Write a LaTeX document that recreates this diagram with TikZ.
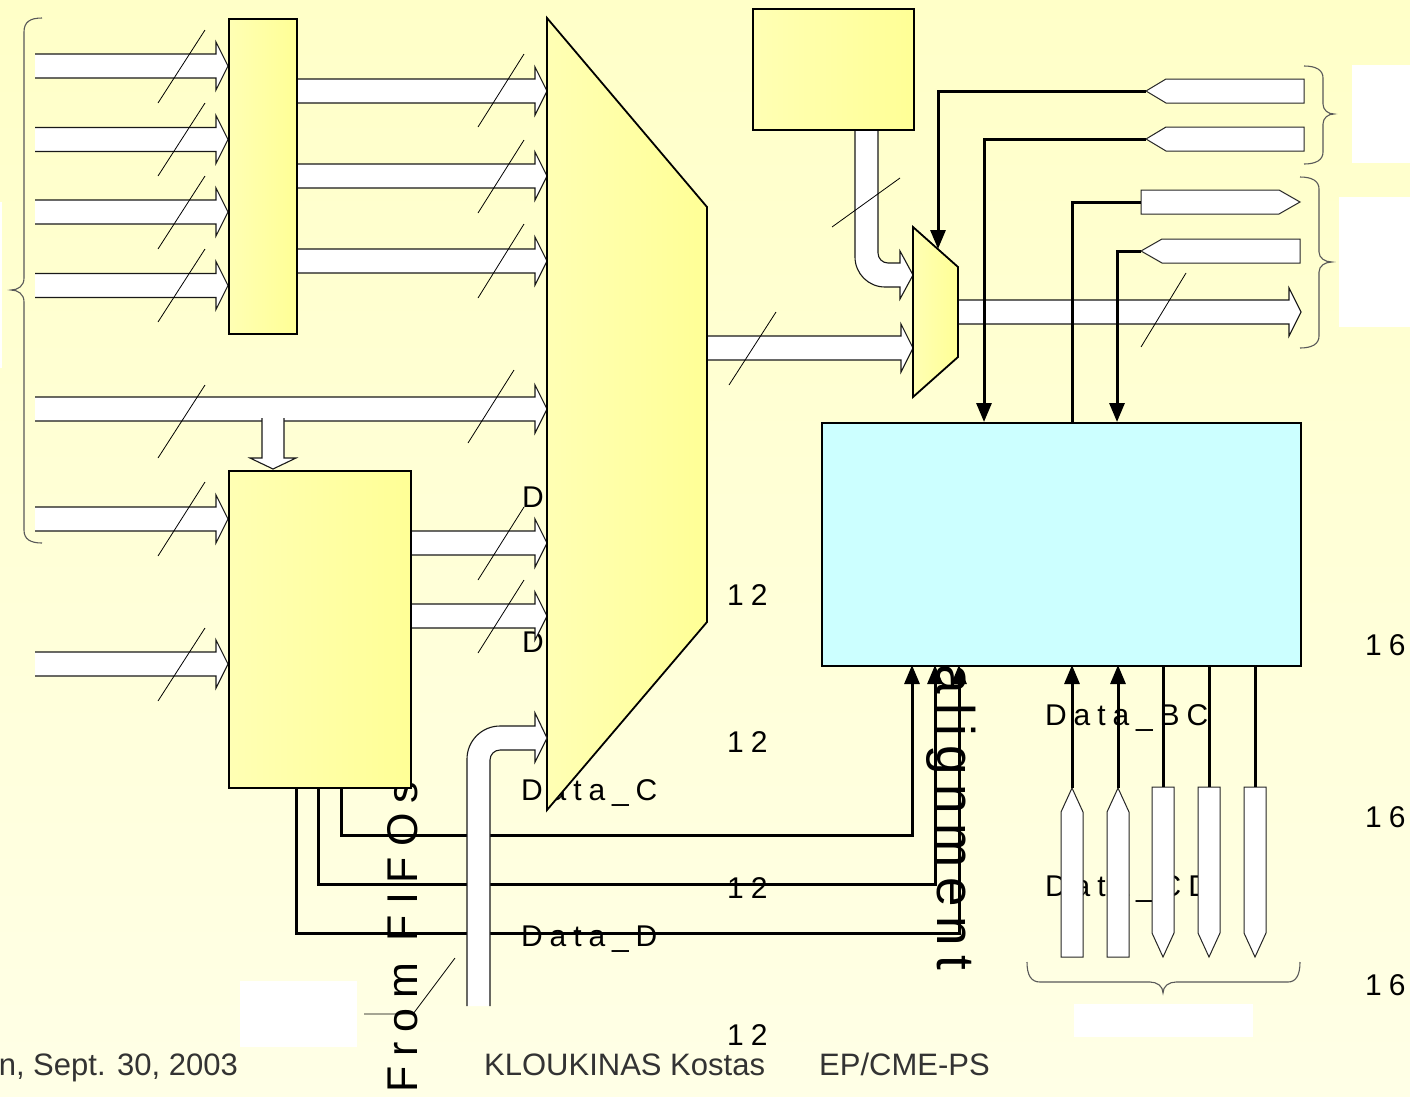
\documentclass[tikz,border=0pt]{standalone}
\usepackage{fontspec}
\setmainfont{Liberation Sans}
\newfontfamily\spc[LetterSpace=23]{Liberation Sans}
\newfontfamily\spcb[LetterSpace=18]{Liberation Sans}
\usetikzlibrary{arrows.meta}
\definecolor{bgtop}{RGB}{255,255,200}
\definecolor{bgbot}{RGB}{255,255,230}
\definecolor{yelL}{RGB}{255,255,180}
\definecolor{yelR}{RGB}{255,255,150}
\definecolor{cyanfill}{RGB}{204,255,255}
\definecolor{foot}{RGB}{51,51,51}
\newcommand\fatR[3]{%
  \fill[white] (#1,#2-12) -- (#3-12,#2-12) -- (#3-12,#2-24) -- (#3,#2) -- (#3-12,#2+24) -- (#3-12,#2+12) -- (#1,#2+12) -- cycle;
  \draw[fatline] (#1,#2-12) -- (#3-12,#2-12) -- (#3-12,#2-24) -- (#3,#2) -- (#3-12,#2+24) -- (#3-12,#2+12) -- (#1,#2+12);}
\newcommand\busmark[4]{\draw[slashline] (#1,#2) -- (#3,#4);}
\begin{document}
\begin{tikzpicture}[x=1pt,y=-1pt,
  fatline/.style={draw=black!90,line width=1.1pt,line join=miter},
  slashline/.style={draw=black,line width=0.8pt},
  conn/.style={draw=black,line width=3pt},
  tipd/.style={-{Triangle[length=19pt,width=15pt]}},
  yelbox/.style={draw=black,line width=1.8pt,left color=yelL,right color=yelR,inner sep=0pt,anchor=north west},
  portshape/.style={fill=white,draw=black!85,line width=1pt},
  brace/.style={draw=black!65,line width=1.1pt},
  lbl/.style={font=\spc\fontsize{30}{36}\selectfont,inner sep=0pt},
  foottxt/.style={font=\fontsize{31}{37}\selectfont,text=foot,inner sep=0pt}]
\useasboundingbox (0,0) rectangle (1410,1096);
\shade[top color=bgtop,bottom color=bgbot] (0,0) rectangle (1410,1096);

% white patches
\fill[white] (-2,202) rectangle (2,368);
\fill[white] (240,981) rectangle (357,1047);
\fill[white] (1074,1004) rectangle (1253,1037);
\fill[white] (1352,65) rectangle (1410,163);
\fill[white] (1339,197) rectangle (1410,327);

% braces
\draw[brace] (42,18) .. controls (30,18) and (24,22) .. (24,32) -- (24,278) .. controls (24,286) and (18,290) .. (11,290) .. controls (18,290) and (24,294) .. (24,302) -- (24,530) .. controls (24,539) and (30,543) .. (42,543);
\draw[brace] (1304,66) .. controls (1316,66) and (1323,70) .. (1323,78) -- (1323,104) .. controls (1323,110) and (1328,114) .. (1334,114) .. controls (1328,114) and (1323,118) .. (1323,124) -- (1323,152) .. controls (1323,160) and (1316,164) .. (1304,164);
\draw[brace] (1300,177) .. controls (1312,177) and (1319,181) .. (1319,189) -- (1319,252) .. controls (1319,258) and (1325,262) .. (1332,262) .. controls (1325,262) and (1319,266) .. (1319,272) -- (1319,336) .. controls (1319,344) and (1312,348) .. (1300,348);
\draw[brace] (1027,962) .. controls (1027,975) and (1031,982) .. (1040,982) -- (1150,982) .. controls (1157,982) and (1163,986) .. (1163,993) .. controls (1163,986) and (1169,982) .. (1176,982) -- (1288,982) .. controls (1296,982) and (1300,975) .. (1300,962);

% texts partly hidden
\node[lbl,font=\spc\fontsize{43}{48}\selectfont,rotate=90,anchor=base west] (fromfifo) at (417,1093) {From FIFOs};
\node[lbl,anchor=base west] (dA) at (522,507) {D};
\node[lbl,anchor=base west] (dB) at (522,652) {D};
\node[lbl,anchor=base west] (dC) at (521,800) {Data\_C};
\node[lbl,anchor=base west] (dCD) at (1045,896) {Data\_CD};
\node[lbl,anchor=base west] (dBC) at (1045,725) {Data\_BC};

% fat arrows
\fatR{35}{66}{228}
\fatR{35}{139.5}{228}
\fatR{35}{212}{228}
\fatR{35}{285.5}{228}
\fatR{296}{91}{547}
\fatR{296}{176}{547}
\fatR{296}{261}{547}
\fatR{35}{409}{547}
\fatR{35}{519}{228}
\fatR{35}{664}{228}
\fatR{410}{543}{547}
\fatR{410}{616}{547}
\fatR{707}{348}{913}
\fatR{958}{312}{1301}
% down arrow into box2
\fill[white] (262,418) -- (262,458) -- (250,458) -- (273,469) -- (296,458) -- (284,458) -- (284,418) -- cycle;
\draw[fatline] (262,418) -- (262,458) -- (250,458) -- (273,469) -- (296,458) -- (284,458) -- (284,418);
% bent arrow from top box
\fill[white] (855,129) -- (855,257) .. controls (855,273.6) and (868.4,287) .. (885,287) -- (900,287) -- (900,299) -- (913,275) -- (900,251) -- (900,263) -- (888,263) .. controls (882.5,263) and (878,258.5) .. (878,253) -- (878,129) -- cycle;
\draw[fatline] (855,129) -- (855,257) .. controls (855,273.6) and (868.4,287) .. (885,287) -- (900,287) -- (900,299) -- (913,275) -- (900,251) -- (900,263) -- (888,263) .. controls (882.5,263) and (878,258.5) .. (878,253) -- (878,129);

% boxes
\node[yelbox,minimum width=68pt,minimum height=315pt] (demux) at (228,18) {};
\node[yelbox,minimum width=182pt,minimum height=317pt] (fifo) at (228,470) {};
\node[yelbox,minimum width=161pt,minimum height=121pt] (cfg) at (752,8) {};
\node[draw=black,line width=1.8pt,fill=cyanfill,inner sep=0pt,anchor=north west,minimum width=479pt,minimum height=243pt] (ctrl) at (821,422) {};
\path[draw=black,line width=1.8pt,left color=yelL,right color=yelR] (547,18) -- (707,207) -- (707,622) -- (547,810) -- cycle;
\path[draw=black,line width=1.8pt,left color=yelL,right color=yelR] (913,227) -- (958,267) -- (958,357) -- (913,397) -- cycle;
\coordinate (smuxin) at (938,249);

% lines from FIFO box to control box
\coordinate (f1) at (341,787); \coordinate (f2) at (318,787); \coordinate (f3) at (296,787);
\coordinate (c1) at (912,665); \coordinate (c2) at (935,665); \coordinate (c3) at (959,665);
\draw[conn,tipd] (f1) |- (912,835) -- (c1);
\draw[conn,tipd] (f2) |- (935,884) -- (c2);
\draw[conn,tipd] (f3) |- (959,933) -- (c3);
% bent arrow from bottom
\fill[white] (467,1006) -- (467,759) .. controls (467,740.8) and (481.8,726) .. (500,726) -- (535,726) -- (535,713) -- (547,738) -- (535,762) -- (535,750) -- (500,750) .. controls (494.5,750) and (490,754.5) .. (490,760) -- (490,1006) -- cycle;
\draw[fatline] (467,1006) -- (467,759) .. controls (467,740.8) and (481.8,726) .. (500,726) -- (535,726) -- (535,713) -- (547,738) -- (535,762) -- (535,750) -- (500,750) .. controls (494.5,750) and (490,754.5) .. (490,760) -- (490,1006);

% bus marks
\busmark{158}{103}{205}{30}
\busmark{158}{176}{205}{103}
\busmark{158}{249}{205}{176}
\busmark{158}{322}{205}{249}
\busmark{478}{127}{524}{54}
\busmark{478}{213}{524}{140}
\busmark{478}{298}{524}{224}
\busmark{158}{458}{205}{385}
\busmark{468}{443}{514}{370}
\busmark{158}{556}{205}{482}
\busmark{158}{701}{205}{628}
\busmark{478}{580}{524}{507}
\busmark{478}{653}{524}{580}
\busmark{729}{385}{776}{312}
\busmark{832}{227}{900}{178}
\busmark{1141}{347}{1186}{273}
\draw[slashline] (364,1014) -- (413,1014) -- (455,958);

% ports on the right
\path[portshape] (1304,79) -- (1166,79) -- (1146,91) -- (1166,103) -- (1304,103) -- cycle;
\path[portshape] (1304,127) -- (1166,127) -- (1146,139) -- (1166,151) -- (1304,151) -- cycle;
\path[portshape] (1141,190) -- (1279,190) -- (1300,202) -- (1279,214) -- (1141,214) -- cycle;
\path[portshape] (1300,239) -- (1162,239) -- (1141,251) -- (1162,263) -- (1300,263) -- cycle;
\coordinate (p1) at (1146,91); \coordinate (p2) at (1146,139);
\coordinate (p3) at (1141,202); \coordinate (p4) at (1141,251);
\draw[conn,tipd] (p1) -| (smuxin);
\draw[conn,tipd] (p2) -| (984,422);
\draw[conn] (1072,422) |- (p3);
\draw[conn,tipd] (p4) -| (1117,422);

% ports below control box
\foreach \cx/\nm in {1072/u1,1118/u2}{
  \path[portshape] (\cx-11,957) -- (\cx-11,812) -- (\cx,788) -- (\cx+11,812) -- (\cx+11,957) -- cycle;
  \coordinate (\nm) at (\cx,788);
  \draw[conn,tipd] (\nm) -- (\cx,665);
}
\foreach \cx/\nm in {1163/d1,1209/d2,1255/d3}{
  \path[portshape] (\cx-11,787) -- (\cx+11,787) -- (\cx+11,933) -- (\cx,957) -- (\cx-11,933) -- cycle;
  \coordinate (\nm) at (\cx,787);
  \draw[conn] (\cx,665) -- (\nm);
}

% labels on top
\node[lbl,anchor=base west] (dD) at (521,946) {Data\_D};
\node[lbl,font=\spcb\fontsize{53}{58}\selectfont,rotate=-90,anchor=base west] (align) at (937,664) {alignment};
\foreach \yy [count=\i] in {605,752,898,1045}{\node[lbl,anchor=base west] (w\i) at (727,\yy) {12};}
\foreach \yy [count=\i] in {655,827,995}{\node[lbl,anchor=base west] (s\i) at (1365,\yy) {16};}

% footer
\node[foottxt,anchor=base east] (date) at (238,1075) {n, Sept. 30, 2003};
\node[foottxt,anchor=base west] (auth) at (484,1075) {KLOUKINAS Kostas};
\node[foottxt,anchor=base west] (dept) at (819,1075) {EP/CME-PS};
\end{tikzpicture}
\end{document}
